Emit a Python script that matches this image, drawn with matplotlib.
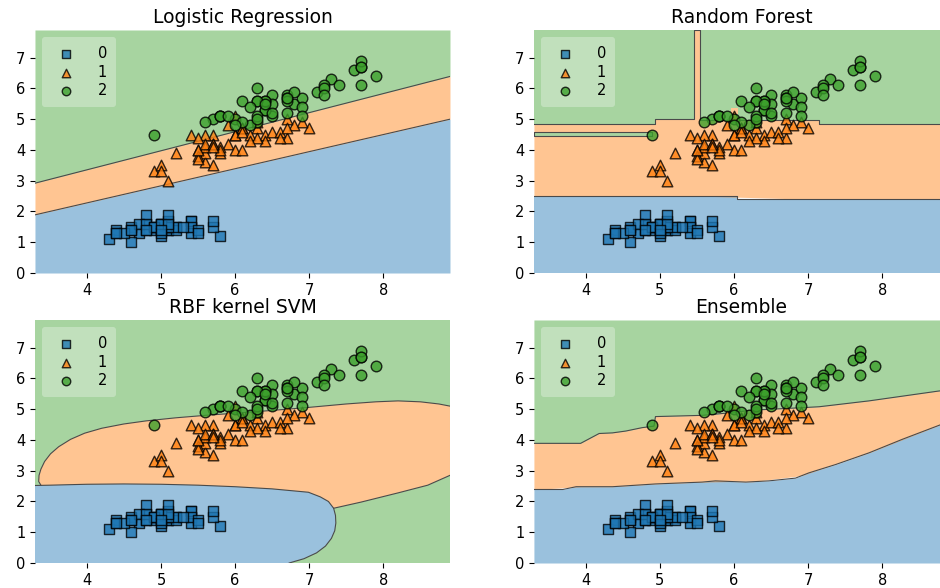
import matplotlib
matplotlib.use("Agg")
import matplotlib.pyplot as plt
import numpy as np

# iris: sepal length (x) and petal length (y), classes 0/1/2
sepal_0 = [5.1, 4.9, 4.7, 4.6, 5.0, 5.4, 4.6, 5.0, 4.4, 4.9, 5.4, 4.8, 4.8, 4.3, 5.8, 5.7, 5.4,
           5.1, 5.7, 5.1, 5.4, 5.1, 4.6, 5.1, 4.8, 5.0, 5.0, 5.2, 5.2, 4.7, 4.8, 5.4, 5.2, 5.5,
           4.9, 5.0, 5.5, 4.9, 4.4, 5.1, 5.0, 4.5, 4.4, 5.0, 5.1, 4.8, 5.1, 4.6, 5.3, 5.0]
petal_0 = [1.4, 1.4, 1.3, 1.5, 1.4, 1.7, 1.4, 1.5, 1.4, 1.5, 1.5, 1.6, 1.4, 1.1, 1.2, 1.5, 1.3,
           1.4, 1.7, 1.5, 1.7, 1.5, 1.0, 1.7, 1.9, 1.6, 1.6, 1.5, 1.4, 1.6, 1.6, 1.5, 1.5, 1.4,
           1.5, 1.2, 1.3, 1.5, 1.3, 1.5, 1.3, 1.3, 1.3, 1.6, 1.9, 1.4, 1.6, 1.4, 1.5, 1.4]
sepal_1 = [7.0, 6.4, 6.9, 5.5, 6.5, 5.7, 6.3, 4.9, 6.6, 5.2, 5.0, 5.9, 6.0, 6.1, 5.6, 6.7, 5.6,
           5.8, 6.2, 5.6, 5.9, 6.1, 6.3, 6.1, 6.4, 6.6, 6.8, 6.7, 6.0, 5.7, 5.5, 5.5, 5.8, 6.0,
           5.4, 6.0, 6.7, 6.3, 5.6, 5.5, 5.5, 6.1, 5.8, 5.0, 5.6, 5.7, 5.7, 6.2, 5.1, 5.7]
petal_1 = [4.7, 4.5, 4.9, 4.0, 4.6, 4.5, 4.7, 3.3, 4.6, 3.9, 3.5, 4.2, 4.0, 4.7, 3.6, 4.4, 4.5,
           4.1, 4.5, 3.9, 4.8, 4.0, 4.9, 4.7, 4.3, 4.4, 4.8, 5.0, 4.5, 3.5, 3.8, 3.7, 3.9, 5.1,
           4.5, 4.5, 4.7, 4.4, 4.1, 4.0, 4.4, 4.6, 4.0, 3.3, 4.2, 4.2, 4.2, 4.3, 3.0, 4.1]
sepal_2 = [6.3, 5.8, 7.1, 6.3, 6.5, 7.6, 4.9, 7.3, 6.7, 7.2, 6.5, 6.4, 6.8, 5.7, 5.8, 6.4, 6.5,
           7.7, 7.7, 6.0, 6.9, 5.6, 7.7, 6.3, 6.7, 7.2, 6.2, 6.1, 6.4, 7.2, 7.4, 7.9, 6.4, 6.3,
           6.1, 7.7, 6.3, 6.4, 6.0, 6.9, 6.7, 6.9, 5.8, 6.8, 6.7, 6.7, 6.3, 6.5, 6.2, 5.9]
petal_2 = [6.0, 5.1, 5.9, 5.6, 5.8, 6.6, 4.5, 6.3, 5.8, 6.1, 5.1, 5.3, 5.5, 5.0, 5.1, 5.3, 5.5,
           6.7, 6.9, 5.0, 5.7, 4.9, 6.7, 4.9, 5.7, 6.0, 4.8, 4.9, 5.6, 5.8, 6.1, 6.4, 5.6, 5.1,
           5.6, 6.1, 5.6, 5.5, 4.8, 5.4, 5.6, 5.1, 5.1, 5.9, 5.7, 5.2, 5.0, 5.2, 5.4, 5.1]

class_labels = ["0", "1", "2"]
class_markers = ["s", "^", "o"]
class_colors = ["#1f77b4", "#ff7f0e", "#3ca02c"]
titles = ["Logistic Regression", "Random Forest", "RBF kernel SVM", "Ensemble"]

x_min, x_max = 3.3, 8.9
y_min, y_max = 0.0, 7.9

# logistic regression boundaries (straight lines)
lr_x = [3.3, 8.9]
lr_low = [1.89, 5.0]
lr_high = [2.92, 6.39]

# random forest boundaries (steps)
rf_low_x = [3.3, 6.04, 6.04, 8.9]
rf_low_y = [2.5, 2.5, 2.39, 2.39]
rf_high_x = [3.3, 4.93, 4.93, 5.46, 5.46, 5.54, 5.54, 7.15, 7.15, 8.9]
rf_high_y = [4.86, 4.86, 5.0, 5.0, 7.9, 7.9, 4.99, 4.99, 4.86, 4.86]
rf_strip_x = [3.3, 4.9]
rf_strip_y = [4.47, 4.59]
rf_box_x = [5.96, 6.05]
rf_box_y = [5.17, 5.37]

# rbf svm boundaries
svm_top_x = [3.38, 3.35, 3.355, 3.38, 3.43, 3.51, 3.62, 3.78, 3.97, 4.2, 4.5, 4.8, 5.2, 5.6,
             6.0, 6.5, 7.0, 7.5, 7.9, 8.2, 8.5, 8.75, 8.9]
svm_top_y = [2.53, 2.65, 2.85, 3.05, 3.3, 3.55, 3.78, 4.02, 4.22, 4.38, 4.52, 4.62, 4.72, 4.8,
             4.87, 4.96, 5.06, 5.17, 5.24, 5.27, 5.24, 5.17, 5.1]
svm_blue_x = [3.3, 3.5, 4.0, 4.5, 5.0, 5.5, 6.0, 6.5, 6.99, 7.15, 7.26, 7.33]
svm_blue_y = [2.52, 2.53, 2.56, 2.57, 2.56, 2.53, 2.48, 2.41, 2.3, 2.15, 2.0, 1.78]
svm_side_x = [7.33, 7.355, 7.36, 7.345, 7.3, 7.22, 7.1, 6.93, 6.73]
svm_side_y = [1.78, 1.55, 1.3, 1.05, 0.8, 0.55, 0.33, 0.14, 0.0]
svm_bot_x = [7.33, 7.7, 8.2, 8.6, 8.9]
svm_bot_y = [1.78, 1.98, 2.28, 2.53, 2.85]

# ensemble boundaries
ens_low_x = [3.3, 3.69, 3.87, 4.36, 4.94, 5.57, 5.75, 6.16, 6.47, 6.83, 7.01, 7.37, 7.82,
             8.27, 8.76, 8.9]
ens_low_y = [2.39, 2.39, 2.48, 2.48, 2.57, 2.63, 2.67, 2.63, 2.67, 2.76, 2.93, 3.2, 3.58,
             4.02, 4.47, 4.6]
ens_high_x = [3.3, 3.93, 4.18, 4.36, 4.54, 4.76, 4.92, 4.94, 5.57, 5.98, 6.25, 6.92, 7.15,
              7.82, 8.76, 8.9]
ens_high_y = [3.89, 3.89, 4.21, 4.23, 4.29, 4.40, 4.45, 4.76, 4.80, 4.89, 4.97, 5.05, 5.08,
              5.27, 5.59, 5.63]

ALPHA = 0.45
LINE = dict(color="#4a4a4a", lw=0.8, zorder=2)


def fill_bands(ax, xl, yl, xh, yh):
    # blue below low curve, orange between, green above
    ax.fill_between(xl, y_min, yl, color=class_colors[0], alpha=ALPHA, lw=0, zorder=1)
    ax.fill_between(xh, np.interp(xh, xl, yl), yh, color=class_colors[1], alpha=ALPHA, lw=0, zorder=1)
    ax.fill_between(xh, yh, y_max, color=class_colors[2], alpha=ALPHA, lw=0, zorder=1)
    ax.plot(xl, yl, **LINE)
    ax.plot(xh, yh, **LINE)


fig = plt.figure(figsize=(9.4, 5.88), dpi=100)
pos = [(0.0372, 0.5357), (0.568, 0.5357), (0.0372, 0.0425), (0.568, 0.0425)]
axes = [fig.add_axes([p[0], p[1], 0.4415, 0.4133]) for p in pos]

# LR
fill_bands(axes[0], lr_x, lr_low, lr_x, lr_high)

# RF
ax = axes[1]
fill_bands(ax, rf_low_x, rf_low_y, rf_high_x, rf_high_y)
ax.fill_between(rf_strip_x, rf_strip_y[0], rf_strip_y[1], color="white", lw=0, zorder=1)
ax.fill_between(rf_strip_x, rf_strip_y[0], rf_strip_y[1], color=class_colors[2], alpha=ALPHA, lw=0, zorder=1)
ax.plot([rf_strip_x[1], rf_strip_x[0], rf_strip_x[0], rf_strip_x[1], rf_strip_x[1]],
        [rf_strip_y[0], rf_strip_y[0], rf_strip_y[1], rf_strip_y[1], rf_strip_y[0]], **LINE)
ax.fill_between(rf_box_x, rf_box_y[0], rf_box_y[1], color="white", lw=0, zorder=1)
ax.fill_between(rf_box_x, rf_box_y[0], rf_box_y[1], color=class_colors[1], alpha=ALPHA, lw=0, zorder=1)

# SVM
ax = axes[2]
ax.add_patch(plt.Rectangle((x_min, y_min), x_max - x_min, y_max - y_min,
                           color=class_colors[2], alpha=ALPHA, lw=0, zorder=0.5))
blue_px = [x_min] + svm_blue_x + svm_side_x[1:]
blue_py = [y_min] + svm_blue_y + svm_side_y[1:]
ax.fill(blue_px, blue_py, color="white", lw=0, zorder=0.8)
ax.fill(blue_px, blue_py, color=class_colors[0], alpha=ALPHA, lw=0, zorder=1)
bx = np.array(svm_blue_x)
by = np.array(svm_blue_y)
keep = bx > svm_top_x[0]
or_px = svm_top_x + svm_bot_x[::-1] + list(bx[keep][::-1])
or_py = svm_top_y + svm_bot_y[::-1] + list(by[keep][::-1])
ax.fill(or_px, or_py, color="white", lw=0, zorder=0.8)
ax.fill(or_px, or_py, color=class_colors[1], alpha=ALPHA, lw=0, zorder=1)
ax.plot(svm_top_x, svm_top_y, **LINE)
ax.plot(svm_blue_x + svm_side_x[1:], svm_blue_y + svm_side_y[1:], **LINE)
ax.plot(svm_bot_x, svm_bot_y, **LINE)

# Ensemble
fill_bands(axes[3], ens_low_x, ens_low_y, ens_high_x, ens_high_y)

for ax, title in zip(axes, titles):
    for xs, ys, m, c, lab in zip([sepal_0, sepal_1, sepal_2], [petal_0, petal_1, petal_2],
                                 class_markers, class_colors, class_labels):
        ax.scatter(xs, ys, marker=m, c=c, s=58, edgecolor="black", linewidth=1.0,
                   alpha=0.8, label=lab, zorder=3)
    ax.set_xlim(x_min, x_max)
    ax.set_ylim(y_min, y_max)
    ax.set_xticks([4, 5, 6, 7, 8])
    ax.set_yticks(range(0, 8))
    ax.tick_params(labelsize=10.5, length=3.5)
    for s in ax.spines.values():
        s.set_visible(False)
    ax.set_title(title, fontsize=13.5, pad=5)
    ax.legend(loc="upper left", framealpha=0.3, markerscale=0.8, fontsize=10.5,
              labelspacing=0.25, edgecolor="none", handletextpad=1.2, borderpad=0.6)

fig.savefig("out.png", dpi=100)
